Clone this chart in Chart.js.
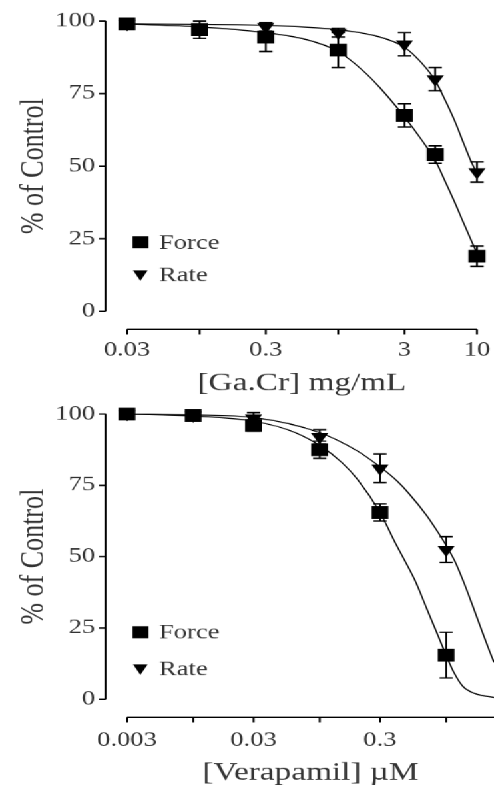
<!DOCTYPE html>
<html>
<head>
<meta charset="utf-8">
<script src="https://cdn.jsdelivr.net/npm/chart.js@4/dist/chart.umd.min.js"></script>
<style>
  html, body { margin: 0; padding: 0; background: #fff; overflow: hidden; }
  #wrap { position: absolute; left: 0; top: 0; width: 371px; height: 791px;
          transform: scaleX(1.3315); transform-origin: 0 0; }
  #c1 { position: absolute; left: 0; top: 0; }
  #c2 { position: absolute; left: 0; top: 391px; }
</style>
</head>
<body>
<div id="wrap">
  <canvas id="c1" width="371" height="400"></canvas>
  <canvas id="c2" width="371" height="400"></canvas>
</div>
<script>
// ---------- Top panel: [Ga.Cr] mg/mL ----------
const doses1 = [0.03, 0.1, 0.3, 1, 3, 5, 10];
const force1 = [99, 97, 94.5, 90, 67.5, 54, 19];
const forceErr1 = [1, 3, 5, 6, 4, 3, 3.5];
const rate1 = [99, 98, 98, 96, 92, 80, 48];
const rateErr1 = [1, 1, 1.5, 1.5, 4, 4, 3.5];
const forceFitX1 = [0.03, 0.1, 0.3, 0.6, 1, 1.5, 2, 3, 4, 5, 6, 7, 8, 10];
const forceFitY1 = [99, 98, 96, 93.5, 89.5, 83, 77, 67, 59, 52, 44, 37, 30.5, 20];
const rateFitX1 = [0.03, 0.3, 1, 2, 3, 4, 5, 6, 7, 8, 9, 10];
const rateFitY1 = [99, 98.5, 97, 94.5, 91, 85.5, 79.5, 72, 65, 58, 52, 47.5];
const xTicks1 = [0.03, 0.1, 0.3, 1, 3, 10];
const xTickLabels1 = ['0.03', '', '0.3', '', '3', '10'];
const xTitle1 = '[Ga.Cr] mg/mL';

// ---------- Bottom panel: [Verapamil] µM ----------
const doses2 = [0.003, 0.01, 0.03, 0.1, 0.3, 1];
const force2 = [100, 99.5, 96, 87.5, 65.5, 15.5];
const forceErr2 = [1, 1, 2, 3, 3, 8];
const rate2 = [100, 99.5, 98.5, 92, 81, 52.5];
const rateErr2 = [1, 1, 2, 2.5, 5, 4.5];
const forceFitX2 = [0.003, 0.01, 0.03, 0.06, 0.1, 0.15, 0.2, 0.3, 0.4, 0.47, 0.567, 0.7, 0.85, 1, 1.15, 1.36, 1.7, 2.39];
const forceFitY2 = [100, 99.3, 97.5, 94, 89, 83, 77, 65.5, 54.5, 48.7, 41.7, 32, 23, 15.5, 9.5, 4.5, 2, 0.7];
const rateFitX2 = [0.003, 0.01, 0.03, 0.1, 0.2, 0.3, 0.41, 0.5, 0.7, 0.85, 1, 1.17, 1.36, 1.6, 1.9, 2.2, 2.39];
const rateFitY2 = [100, 99.7, 98.8, 93.5, 87, 81.5, 76.5, 72.5, 64.5, 59, 54, 48.5, 41.7, 33.5, 24.5, 17, 13];
const xTicks2 = [0.003, 0.01, 0.03, 0.1, 0.3, 1];
const xTickLabels2 = ['0.003', '', '0.03', '', '0.3', ''];
const xTitle2 = '[Verapamil] \u00b5M';

const yTicks = [0, 25, 50, 75, 100];
const yTickLabels = ['0', '25', '50', '75', '100'];
const yTitle = '% of Control';
const seriesNames = ['Force', 'Rate'];

const FONT = "'Liberation Serif', 'Times New Roman', serif";
const TXT = '#333';

const pts = (xs, ys) => xs.map((x, i) => ({x: x, y: ys[i]}));
const noPad = (s) => { s.paddingLeft = 0; s.paddingRight = 0; s.paddingTop = 0; s.paddingBottom = 0; };

const decor = {
  id: 'decor',
  afterDatasetsDraw(chart, args, o) {
    const ctx = chart.ctx, xs = chart.scales.x, ys = chart.scales.y, ca = chart.chartArea;
    ctx.save();
    ctx.strokeStyle = '#000';
    ctx.lineWidth = 1.4;
    chart.data.datasets.forEach((ds) => {
      if (!ds.errors) return;
      ds.data.forEach((p, i) => {
        const e = ds.errors[i];
        const px = xs.getPixelForValue(p.x);
        const yt = ys.getPixelForValue(p.y + e);
        const yb = ys.getPixelForValue(p.y - e);
        ctx.beginPath();
        ctx.moveTo(px, yt); ctx.lineTo(px, yb);
        ctx.moveTo(px - 5, yt); ctx.lineTo(px + 5, yt);
        ctx.moveTo(px - 5, yb); ctx.lineTo(px + 5, yb);
        ctx.stroke();
      });
    });
    ctx.fillStyle = '#000';
    const lx = ca.left + 10, tx = ca.left + 24;
    const fy = ca.bottom + o.legendForce, ry = ca.bottom + o.legendRate;
    ctx.fillRect(lx - 6, fy - 6, 12, 12);
    ctx.beginPath();
    ctx.moveTo(lx - 5.5, ry - 5); ctx.lineTo(lx + 5.5, ry - 5); ctx.lineTo(lx, ry + 5.5);
    ctx.closePath(); ctx.fill();
    ctx.fillStyle = TXT;
    ctx.font = '20px ' + FONT;
    ctx.textBaseline = 'middle';
    ctx.textAlign = 'left';
    ctx.fillText(seriesNames[0], tx, fy + 1);
    ctx.fillText(seriesNames[1], tx, ry + 1);
    ctx.restore();
  },
  afterDraw(chart, args, o) {
    const ctx = chart.ctx, xs = chart.scales.x, ys = chart.scales.y, ca = chart.chartArea;
    ctx.save();
    ctx.strokeStyle = '#000';
    ctx.lineWidth = 1.5;
    const ax = ca.left - 16;
    ctx.beginPath();
    ctx.moveTo(ax, ys.getPixelForValue(100)); ctx.lineTo(ax, ys.getPixelForValue(0));
    yTicks.forEach(v => { const py = ys.getPixelForValue(v); ctx.moveTo(ax - 5, py); ctx.lineTo(ax, py); });
    ctx.stroke();
    const ay = ca.bottom + 18;
    const tv = o.xTicks;
    ctx.beginPath();
    ctx.moveTo(xs.getPixelForValue(tv[0]), ay);
    ctx.lineTo(o.toEdge ? chart.width : xs.getPixelForValue(tv[tv.length - 1]), ay);
    tv.forEach(v => { const px = xs.getPixelForValue(v); ctx.moveTo(px, ay); ctx.lineTo(px, ay + 5); });
    ctx.stroke();
    ctx.restore();
  }
};

function makeChart(id, cfg) {
  const datasets = [
    { data: pts(cfg.fitFX, cfg.fitFY), borderColor: '#000', borderWidth: 1.1, pointRadius: 0,
      cubicInterpolationMode: 'monotone', fill: false, clip: false },
    { data: pts(cfg.fitRX, cfg.fitRY), borderColor: '#000', borderWidth: 1.1, pointRadius: 0,
      cubicInterpolationMode: 'monotone', fill: false, clip: false },
    { data: pts(cfg.doses, cfg.rate), errors: cfg.rateErr, showLine: false, pointStyle: 'triangle',
      rotation: 180, pointRadius: 7.5, backgroundColor: '#000', borderColor: '#000', borderWidth: 0, clip: false },
    { data: pts(cfg.doses, cfg.force), errors: cfg.forceErr, showLine: false, pointStyle: 'rect',
      pointRadius: 9, backgroundColor: '#000', borderColor: '#000', borderWidth: 0, clip: false }
  ];
  return new Chart(document.getElementById(id), {
    type: 'line',
    data: { datasets: datasets },
    plugins: [decor],
    options: {
      responsive: false,
      animation: false,
      devicePixelRatio: 1.3315,
      layout: { autoPadding: false, padding: { top: cfg.padTop, right: cfg.padRight, bottom: 0, left: 0 } },
      plugins: {
        legend: { display: false },
        tooltip: { enabled: false },
        decor: { legendForce: cfg.legendForce, legendRate: cfg.legendRate, xTicks: cfg.xTicks, toEdge: cfg.toEdge }
      },
      scales: {
        x: {
          type: 'logarithmic', min: cfg.xMin, max: cfg.xMax,
          grid: { display: false, drawTicks: false }, border: { display: false },
          afterBuildTicks: (s) => { s.ticks = cfg.xTicks.map(v => ({ value: v })); },
          afterFit: (s) => { s.height = cfg.xScaleH; noPad(s); },
          ticks: { autoSkip: false, maxRotation: 0, padding: cfg.xLabelPad, color: TXT,
                   font: { family: FONT, size: 20 },
                   callback: (v, i) => cfg.xLabels[i] },
          title: { display: true, text: cfg.xTitle, color: TXT, font: { family: FONT, size: 25 },
                   padding: { top: 0, bottom: cfg.xTitlePad } }
        },
        y: {
          type: 'linear', min: 0, max: 100,
          grid: { display: false, drawTicks: false }, border: { display: false },
          afterBuildTicks: (s) => { s.ticks = yTicks.map(v => ({ value: v })); },
          afterFit: (s) => { s.width = 95.4; noPad(s); },
          ticks: { padding: 24, color: TXT, font: { family: FONT, size: 20 },
                   callback: (v, i) => yTickLabels[i] },
          title: { display: true, text: yTitle, color: TXT, font: { family: FONT, size: 26 },
                   padding: { top: 10, bottom: 0 } }
        }
      }
    }
  });
}

makeChart('c1', {
  doses: doses1, force: force1, forceErr: forceErr1, rate: rate1, rateErr: rateErr1,
  fitFX: forceFitX1, fitFY: forceFitY1, fitRX: rateFitX1, fitRY: rateFitY1,
  xTicks: xTicks1, xLabels: xTickLabels1, xTitle: xTitle1, xMin: 0.03, xMax: 10,
  padTop: 21, padRight: 12.8, xScaleH: 89, xLabelPad: 27, xTitlePad: 2,
  legendForce: -69, legendRate: -36, toEdge: false
});
makeChart('c2', {
  doses: doses2, force: force2, forceErr: forceErr2, rate: rate2, rateErr: rateErr2,
  fitFX: forceFitX2, fitFY: forceFitY2, fitRX: rateFitX2, fitRY: rateFitY2,
  xTicks: xTicks2, xLabels: xTickLabels2, xTitle: xTitle2, xMin: 0.003, xMax: 2.39,
  padTop: 23, padRight: 0, xScaleH: 92, xLabelPad: 29, xTitlePad: 3,
  legendForce: -67, legendRate: -30, toEdge: true
});
</script>
</body>
</html>
